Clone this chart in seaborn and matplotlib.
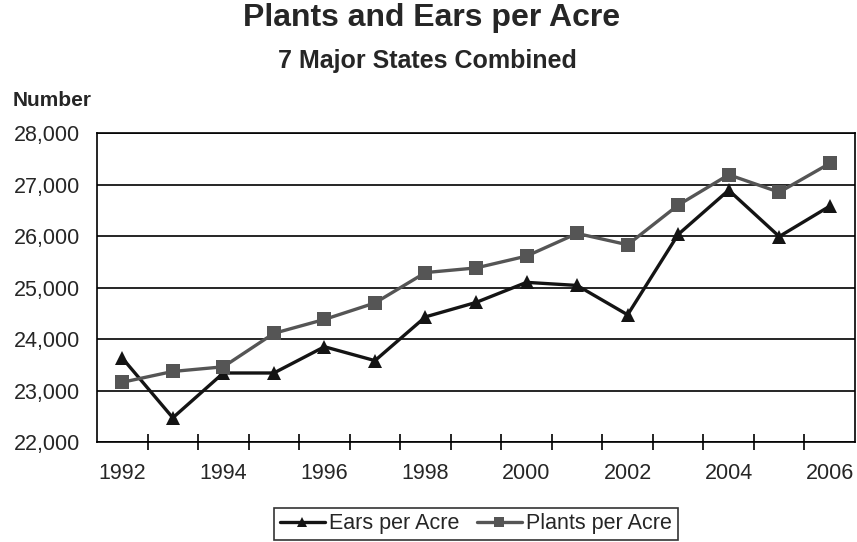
import matplotlib
matplotlib.use("Agg")
import matplotlib.pyplot as plt
import seaborn as sns
import pandas as pd
import numpy as np
from matplotlib.ticker import FuncFormatter

# Values
years = list(range(1992, 2007))
ears_per_acre = [23630, 22470, 23340, 23340, 23850, 23580, 24430, 24710,
                 25100, 25040, 24470, 26030, 26890, 25990, 26580]
plants_per_acre = [23160, 23370, 23460, 24110, 24380, 24700, 25290, 25380,
                   25610, 26050, 25830, 26600, 27190, 26850, 27410]
year_labels = [str(y) for y in range(1992, 2007, 2)]

df = pd.DataFrame({
    "Year": years * 2,
    "Value": ears_per_acre + plants_per_acre,
    "Series": ["Ears per Acre"] * len(years) + ["Plants per Acre"] * len(years),
})

sns.set_style("white")
plt.rcParams['font.family'] = ['Liberation Sans', 'DejaVu Sans']

fig = plt.figure(figsize=(8.57, 5.42), dpi=100)
ax = fig.add_axes([0.1132, 0.1845, 0.8845, 0.5701])

palette = {"Ears per Acre": "#141414", "Plants per Acre": "#555555"}
markers = {"Ears per Acre": "^", "Plants per Acre": "s"}
sns.lineplot(data=df, x="Year", y="Value", hue="Series", style="Series",
             palette=palette, markers=markers, dashes=False, linewidth=2.4,
             markersize=9.5, markeredgewidth=0, ax=ax)

# Gridlines and frame
ax.set_ylim(22000, 28000)
ax.set_yticks(range(22000, 28001, 1000))
ax.yaxis.set_major_formatter(FuncFormatter(lambda v, p: f"{int(v):,}"))
ax.grid(axis="y", color="black", linewidth=1.2)
ax.set_axisbelow(True)
for s in ax.spines.values():
    s.set_color("black")
    s.set_linewidth(1.2)

ax.set_xlim(1991.5, 2006.5)
ax.set_xticks(range(1992, 2007, 2))
ax.set_xticklabels(year_labels)
ax.set_xticks(np.arange(1992.5, 2006, 1.0), minor=True)
ax.tick_params(axis="x", which="major", bottom=False, length=0, pad=15,
               labelsize=15.5)
ax.tick_params(axis="x", which="minor", bottom=True, direction="inout",
               length=11, width=1.2, color="black")
ax.tick_params(axis="y", left=False, length=0, pad=12, labelsize=15.5)
ax.set_xlabel("")
ax.set_ylabel("")

# Titles
fig.text(0.503, 0.952, "Plants and Ears per Acre", ha="center",
         va="baseline", fontsize=23, fontweight="bold")
fig.text(0.499, 0.8745, "7 Major States Combined", ha="center",
         va="baseline", fontsize=18, fontweight="bold")
fig.text(0.0148, 0.805, "Number", ha="left", va="baseline",
         fontsize=15, fontweight="bold")

leg = ax.legend(loc="center", bbox_to_anchor=(0.5, -0.265), ncol=2,
                frameon=True, fancybox=False, fontsize=15.5,
                handlelength=2.1, handletextpad=0.2, columnspacing=0.8,
                borderpad=0.25, borderaxespad=0, markerscale=0.8)
leg.get_frame().set_edgecolor("black")
leg.get_frame().set_linewidth(1.2)

fig.savefig("out.png", dpi=100)
